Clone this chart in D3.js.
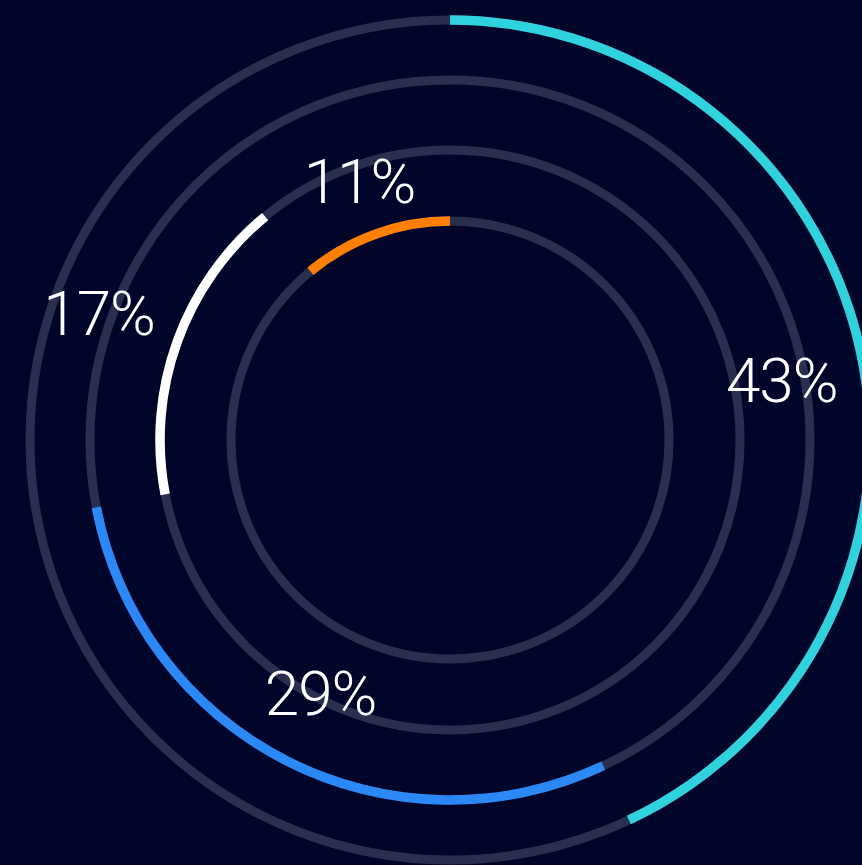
<!DOCTYPE html>
<html>
<head>
<meta charset="utf-8">
<script src="https://cdn.jsdelivr.net/npm/d3@7"></script>
<style>
  html, body { margin: 0; padding: 0; background: #000529; overflow: hidden; }
  svg { display: block; }
</style>
</head>
<body>
<svg id="rings"></svg>
<script>
// data, outer ring first
const labels = ["43%", "29%", "17%", "11%"];
const values = [43, 29, 17, 11];
const colors = ["#2fd3e0", "#2b88f7", "#ffffff", "#ff7f00"];

const width = 862, height = 865;
const cx = 450, cy = 440;
const ringRadius = [420, 360, 290, 219];
// where each label sits relative to its ring (px) and a small angle nudge (deg)
const labelShift = [-83, -75, 83, 55];
const labelNudge = [2.5, 0, 0, 0.5];

const svg = d3.select("#rings")
    .attr("width", width)
    .attr("height", height);

svg.append("rect")
    .attr("width", width)
    .attr("height", height)
    .attr("fill", "#000529");

const g = svg.append("g")
    .attr("transform", `translate(${cx},${cy})`);

const angle = d3.scaleLinear()
    .domain([0, 100])
    .range([0, 2 * Math.PI]);

// cumulative start/end for each ring
let acc = 0;
const rows = values.map((v, i) => {
    const row = { label: labels[i], value: v, color: colors[i], start: acc, end: acc + v, r: ringRadius[i], i: i };
    acc += v;
    return row;
});

// grey tracks
g.selectAll("circle.track")
    .data(rows)
    .join("circle")
    .attr("class", "track")
    .attr("r", d => d.r)
    .attr("fill", "none")
    .attr("stroke", "#2a2e4f")
    .attr("stroke-width", 9);

const arc = d3.arc()
    .innerRadius(d => d.r - 4.75)
    .outerRadius(d => d.r + 4.75)
    .startAngle(d => angle(d.start))
    .endAngle(d => angle(d.end));

g.selectAll("path.seg")
    .data(rows)
    .join("path")
    .attr("class", "seg")
    .attr("fill", d => d.color)
    .attr("d", arc);

g.selectAll("text.lbl")
    .data(rows)
    .join("text")
    .attr("class", "lbl")
    .attr("text-anchor", "middle")
    .attr("dominant-baseline", "central")
    .attr("font-family", "Roboto, 'Helvetica Neue', sans-serif")
    .attr("font-weight", 300)
    .attr("font-size", 62)
    .attr("letter-spacing", -1)
    .attr("fill", "#ffffff")
    .attr("transform", d => {
        const a = (angle(d.start) + angle(d.end)) / 2 + labelNudge[d.i] * Math.PI / 180;
        const p = d3.pointRadial(a, d.r + labelShift[d.i]);
        return `translate(${p[0]},${p[1]})`;
    })
    .text(d => d.label);
</script>
</body>
</html>
